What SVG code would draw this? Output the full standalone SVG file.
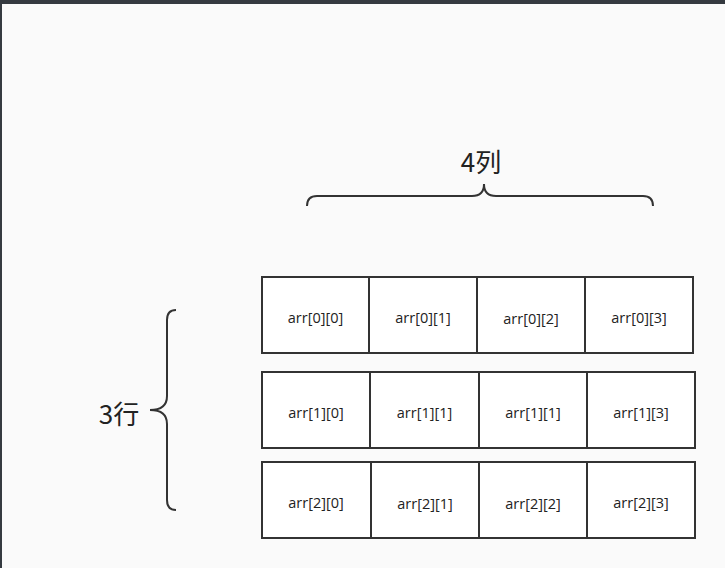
<svg xmlns="http://www.w3.org/2000/svg" width="725" height="568" viewBox="0 0 725 568">
<style>
.c{fill:#fff;stroke:#333;stroke-width:2}
.t{font-family:"Open Sans","Noto Sans",sans-serif;font-size:14.5px;fill:#222;text-anchor:middle;dominant-baseline:central}
.b{fill:none;stroke:#333;stroke-width:2}
.l{font-family:"Noto Sans CJK SC","Open Sans",sans-serif;font-size:26px;fill:#222;text-anchor:middle;dominant-baseline:central}
</style>
<rect width="725" height="568" fill="#353a40"/>
<rect x="2" y="4" width="723" height="564" fill="#fafafa"/>
<g id="connectors">
<path class="b" d="M307,206 Q307,196 317,196 L472,196 Q484,196 484,184 Q484,196 496,196 L643,196 Q653,196 653,206"/>
<path class="b" d="M176,310 Q167,310 167,320 L167,396 Q167,410 150,410 Q167,410 167,424 L167,500 Q167,510 176,510"/>
</g>
<g id="label-cols"><text class="l" x="481" y="160">4列</text></g>
<g id="label-rows"><text class="l" x="119" y="412">3行</text></g>
<g id="r0c0"><rect class="c" x="262" y="277" width="107" height="76"/><text class="t" x="315.5" y="317">arr[0][0]</text></g>
<g id="r0c1"><rect class="c" x="369" y="277" width="108" height="76"/><text class="t" x="423" y="317">arr[0][1]</text></g>
<g id="r0c2"><rect class="c" x="477" y="277" width="108" height="76"/><text class="t" x="531" y="318">arr[0][2]</text></g>
<g id="r0c3"><rect class="c" x="585" y="277" width="108" height="76"/><text class="t" x="639" y="317">arr[0][3]</text></g>
<g id="r1c0"><rect class="c" x="262" y="372" width="108" height="76"/><text class="t" x="316" y="412">arr[1][0]</text></g>
<g id="r1c1"><rect class="c" x="370" y="372" width="109" height="76"/><text class="t" x="424.5" y="412">arr[1][1]</text></g>
<g id="r1c2"><rect class="c" x="479" y="372" width="108" height="76"/><text class="t" x="533" y="412">arr[1][1]</text></g>
<g id="r1c3"><rect class="c" x="587" y="372" width="108" height="76"/><text class="t" x="641" y="412">arr[1][3]</text></g>
<g id="r2c0"><rect class="c" x="262" y="462" width="109" height="76"/><text class="t" x="316" y="502">arr[2][0]</text></g>
<g id="r2c1"><rect class="c" x="371" y="462" width="108" height="76"/><text class="t" x="425" y="503">arr[2][1]</text></g>
<g id="r2c2"><rect class="c" x="479" y="462" width="108" height="76"/><text class="t" x="533" y="503">arr[2][2]</text></g>
<g id="r2c3"><rect class="c" x="587" y="462" width="108" height="76"/><text class="t" x="641" y="502">arr[2][3]</text></g>
</svg>
